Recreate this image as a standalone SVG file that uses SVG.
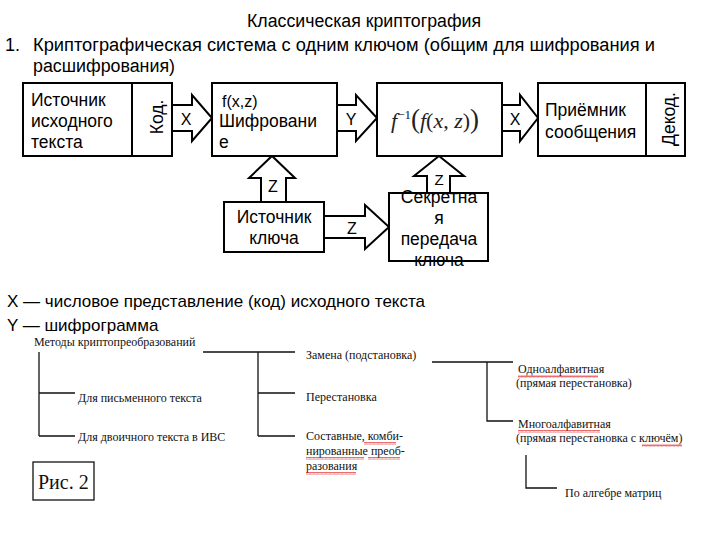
<svg xmlns="http://www.w3.org/2000/svg" width="720" height="540" viewBox="0 0 720 540">
<defs>
<style>
.t{font-family:"Liberation Sans",Arial,sans-serif;fill:#000}
.s{font-family:"Liberation Serif","Times New Roman",serif;fill:#111;font-size:12px}
.box{fill:#fff;stroke:#000;stroke-width:2}
.arr{fill:#fff;stroke:#000;stroke-width:2;stroke-linejoin:miter}
.ln{fill:none;stroke:#111;stroke-width:1.3}
.lbl{font-size:16px;text-anchor:middle;dominant-baseline:central}
.bt{font-size:17.5px}
</style>
<pattern id="wavy" width="4" height="3" patternUnits="userSpaceOnUse">
<path d="M0,2.5 L1,0.5 L2,2.5 L3,0.5 L4,2.5" fill="none" stroke="#e03030" stroke-width="0.7"/>
</pattern>
</defs>
<rect width="720" height="540" fill="#fff"/>

<g id="header">
<text class="t" x="247" y="27" font-size="18" textLength="234" lengthAdjust="spacingAndGlyphs">Классическая криптография</text>
<text class="t" x="5" y="51" font-size="18">1.</text>
<text class="t" x="33" y="51" font-size="18" textLength="622" lengthAdjust="spacingAndGlyphs">Криптографическая система с одним ключом (общим для шифрования и</text>
<text class="t" x="33" y="72" font-size="18" textLength="142" lengthAdjust="spacingAndGlyphs">расшифрования)</text>
</g>

<g id="connectors">
<polygon class="arr" points="172,105 192,105 192,95 212,118 192,141 192,131 172,131"/>
<text class="t lbl" x="186" y="119">X</text>
<polygon class="arr" points="337,105 356,105 356,95 377,118 356,141 356,131 337,131"/>
<text class="t lbl" x="351" y="119">Y</text>
<polygon class="arr" points="502,105 520,105 520,95 538,118 520,141 520,131 502,131"/>
<text class="t lbl" x="515" y="119">X</text>
<polygon class="arr" points="261,202 261,178 249,178 272,156 295,178 286,178 286,202"/>
<text class="t lbl" x="273" y="186">Z</text>
<polygon class="arr" points="427,193 427,176 414,176 439,156 464,176 450,176 450,193"/>
<text class="t lbl" x="439" y="179" style="font-size:15px">Z</text>
<polygon class="arr" points="324,216 365,216 365,205 389,227 365,249 365,238 324,238"/>
<text class="t lbl" x="352" y="228">Z</text>
</g>

<g id="source">
<rect class="box" x="23" y="83" width="149" height="73"/>
<line x1="132" y1="83" x2="132" y2="156" stroke="#000" stroke-width="2"/>
<text class="t bt" x="31" y="106">Источник</text>
<text class="t bt" x="31" y="127">исходного</text>
<text class="t bt" x="31" y="148">текста</text>
<text class="t bt" text-anchor="middle" transform="translate(163,117) rotate(-90)">Код.</text>
</g>

<g id="encrypt">
<rect class="box" x="212" y="83" width="125" height="73"/>
<text class="t" x="222" y="107" font-size="16">f(x,z)</text>
<text class="t bt" x="219" y="127">Шифровани</text>
<text class="t bt" x="219" y="148">е</text>
</g>

<g id="decrypt">
<rect class="box" x="377" y="83" width="125" height="73"/>
<text x="391" y="128" font-family="'Liberation Serif','Times New Roman',serif" font-size="22" fill="#222"><tspan font-style="italic">f</tspan><tspan font-size="13" dy="-9">−1</tspan><tspan dy="9" font-size="27">(</tspan><tspan font-style="italic">f</tspan>(<tspan font-style="italic">x</tspan>, <tspan font-style="italic">z</tspan>)<tspan font-size="27">)</tspan></text>
</g>

<g id="receiver">
<rect class="box" x="538" y="83" width="147" height="73"/>
<line x1="646" y1="83" x2="646" y2="156" stroke="#000" stroke-width="2"/>
<text class="t bt" x="545" y="116">Приёмник</text>
<text class="t bt" x="545" y="138">сообщения</text>
<text class="t bt" text-anchor="middle" transform="translate(675,119) rotate(-90)">Декод.</text>
</g>

<g id="keysource">
<rect class="box" x="224" y="202" width="100" height="50"/>
<text class="t bt" x="274" y="223" text-anchor="middle">Источник</text>
<text class="t bt" x="274" y="244" text-anchor="middle">ключа</text>
</g>

<g id="secret">
<rect class="box" x="389" y="193" width="99" height="68"/>
<text class="t bt" x="439" y="203" text-anchor="middle">Секретна</text>
<text class="t bt" x="439" y="224" text-anchor="middle">я</text>
<text class="t bt" x="439" y="245" text-anchor="middle">передача</text>
<text class="t bt" x="439" y="266" text-anchor="middle">ключа</text>
</g>

<g id="legend">
<text class="t" x="7" y="307" font-size="17">X — числовое представление (код) исходного текста</text>
<text class="t" x="7" y="331" font-size="17">Y — шифрограмма</text>
</g>

<g id="tree-lines">
<path class="ln" d="M203,352 H295 M258,352 V436 M258,393 H295 M258,436 H295"/>
<path class="ln" d="M39,352 V436 M39,393 H75 M39,436 H75"/>
<path class="ln" d="M432,362 H513 M487,362 V421 H513"/>
<path class="ln" d="M526,455 V488 H557"/>
</g>

<g id="tree-text">
<text class="s" x="34" y="346">Методы криптопреобразований</text>
<text class="s" x="78" y="402">Для письменного текста</text>
<text class="s" x="78" y="441">Для двоичного текста в ИВС</text>
<text class="s" x="306" y="359">Замена (подстановка)</text>
<text class="s" x="306" y="401">Перестановка</text>
<text class="s" x="306" y="440">Составные, комби-</text>
<text class="s" x="306" y="455">нированные преоб-</text>
<text class="s" x="306" y="470">разования</text>
<text class="s" x="518" y="373">Одноалфавитная</text>
<text class="s" x="516" y="387">(прямая перестановка)</text>
<text class="s" x="518" y="428">Многоалфавитная</text>
<text class="s" x="516" y="442">(прямая перестановка с ключём)</text>
<text class="s" x="565" y="497">По алгебре матриц</text>
</g>

<g id="spellcheck">
<rect x="518" y="375" width="80" height="3" fill="url(#wavy)"/>
<rect x="518" y="430" width="82" height="3" fill="url(#wavy)"/>
<rect x="642" y="444" width="40" height="3" fill="url(#wavy)"/>
<rect x="364" y="442" width="32" height="3" fill="url(#wavy)"/>
<rect x="306" y="457" width="58" height="3" fill="url(#wavy)"/>
<rect x="368" y="457" width="32" height="3" fill="url(#wavy)"/>
<rect x="306" y="472" width="50" height="3" fill="url(#wavy)"/>
</g>

<g id="fig">
<rect x="33" y="462" width="61" height="38" fill="#fff" stroke="#111" stroke-width="1.3"/>
<text class="s" x="38" y="489" style="font-size:20px">Рис. 2</text>
</g>
</svg>
